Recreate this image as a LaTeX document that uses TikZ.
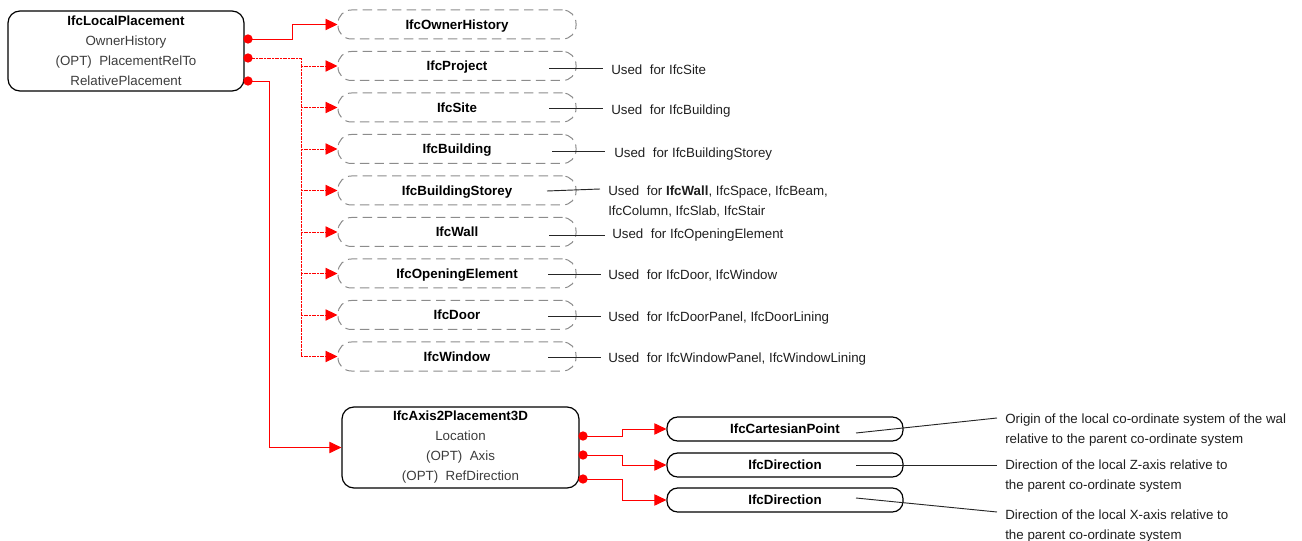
\documentclass[tikz,border=0pt]{standalone}
\usepackage{fontspec}
\setmainfont{Liberation Sans}
\usetikzlibrary{arrows.meta}
\definecolor{bodytxt}{HTML}{3C3C3C}
\definecolor{dashgray}{HTML}{8C8C8C}
\begin{document}
\begin{tikzpicture}[x=0.75pt,y=-0.75pt,
  font=\fontsize{10}{15}\selectfont,
  entbox/.style={draw=black,line width=0.9pt,rounded corners=9pt,align=center,inner sep=0pt},
  dashbox/.style={draw=dashgray,line width=0.75pt,dash pattern=on 7pt off 4pt,rounded corners=10pt,minimum width=178.5pt,minimum height=21.75pt,inner sep=0pt,text depth=0pt,font=\fontsize{10}{12}\selectfont\bfseries},
  smallbox/.style={draw=black,line width=0.9pt,rounded corners=8pt,minimum width=177pt,minimum height=18pt,inner sep=0pt,text depth=0pt,font=\fontsize{10}{12}\selectfont\bfseries},
  conn/.style={draw=red,line width=0.6pt},
  dotconn/.style={conn,line width=0.7pt,dash pattern=on 1.5pt off 0.5pt},
  tip/.style={-{Triangle[length=9pt,width=8.5pt]}},
  port/.style={circle,fill=red,inner sep=0pt,minimum size=7pt},
  note/.style={anchor=west,align=left,inner sep=0pt,text=black!88},
  noteline/.style={draw=black!85,line width=0.7pt},
]
\useasboundingbox (0,0) rectangle (1302,541);

% main entity
\node[entbox,minimum width=177pt,minimum height=60pt] (lp) at (126,51)
  {\textbf{IfcLocalPlacement}\\\textcolor{bodytxt}{OwnerHistory}\\\textcolor{bodytxt}{(OPT)~ PlacementRelTo}\\\textcolor{bodytxt}{RelativePlacement}};
\node[port] (lpa) at (248,39) {};
\node[port] (lpb) at (248,58) {};
\node[port] (lpc) at (248,81) {};

% dashed boxes
\node[dashbox] (oh) at (457,24.5) {IfcOwnerHistory};
\node[dashbox] (pj) at (457,66) {IfcProject};
\node[dashbox] (st) at (457,107.5) {IfcSite};
\node[dashbox] (bd) at (457,149) {IfcBuilding};
\node[dashbox] (bs) at (457,190.5) {IfcBuildingStorey};
\node[dashbox] (wl) at (457,232) {IfcWall};
\node[dashbox] (op) at (457,273.5) {IfcOpeningElement};
\node[dashbox] (dr) at (457,315) {IfcDoor};
\node[dashbox] (wn) at (457,356.5) {IfcWindow};

% connectors from IfcLocalPlacement
\draw[conn,tip] (lpa.center) -- ++(44,0) |- (oh.west);
\coordinate (bus) at (301,356.5);
\draw[dotconn] (lpb.center) -| (bus);
\foreach \b in {pj,st,bd,bs,wl,op,dr,wn}
  \draw[dotconn,tip] (bus |- \b.west) -- (\b.west);

% axis placement
\node[entbox,minimum width=177.75pt,minimum height=60.75pt] (ax) at (460.5,447.5)
  {\textbf{IfcAxis2Placement3D}\\\textcolor{bodytxt}{Location}\\\textcolor{bodytxt}{(OPT)~ Axis}\\\textcolor{bodytxt}{(OPT)~ RefDirection}};
\draw[conn,tip] (lpc.center) -- ++(21,0) |- (ax.west);
\node[port] (axa) at (583,436) {};
\node[port] (axb) at (583,455) {};
\node[port] (axc) at (583,479) {};

\node[smallbox] (cp) at (785,429) {IfcCartesianPoint};
\node[smallbox] (d1) at (785,465) {IfcDirection};
\node[smallbox] (d2) at (785,500) {IfcDirection};
\draw[conn,tip] (axa.center) -- ++(39,0) |- (cp.west);
\draw[conn,tip] (axb.center) -- ++(39,0) |- (d1.west);
\draw[conn,tip] (axc.center) -- ++(39,0) |- (d2.west);

% notes upper
\node[note] (npj) at (611,70) {Used~ for IfcSite};
\node[note] (nst) at (611,111) {Used~ for IfcBuilding};
\node[note] (nbd) at (614,154) {Used~ for IfcBuildingStorey};
\node[note,font=\fontsize{10}{15}\selectfont] (nbs) at (608,202) {Used~ for \textbf{IfcWall}, IfcSpace, IfcBeam,\\IfcColumn, IfcSlab, IfcStair};
\node[note] (nwl) at (612,235) {Used~ for IfcOpeningElement};
\node[note] (nop) at (608,276) {Used~ for IfcDoor, IfcWindow};
\node[note] (ndr) at (608,318) {Used~ for IfcDoorPanel, IfcDoorLining};
\node[note] (nwn) at (608,359) {Used~ for IfcWindowPanel, IfcWindowLining};

\coordinate (apj) at (549,68);   \coordinate (bpj) at (603,68);
\coordinate (ast) at (549,108.5);\coordinate (bst) at (603,108.5);
\coordinate (abd) at (552,151);  \coordinate (bbd) at (605,151);
\coordinate (abs) at (547,191);  \coordinate (bbs) at (600,189);
\coordinate (awl) at (549,235);  \coordinate (bwl) at (605,235);
\coordinate (aop) at (548,274.5);\coordinate (bop) at (601,274.5);
\coordinate (adr) at (548,316);  \coordinate (bdr) at (601,316);
\coordinate (awn) at (548,357.5);\coordinate (bwn) at (601,357.5);
\foreach \k in {pj,st,bd,bs,wl,op,dr,wn}
  \draw[noteline] (a\k) -- (b\k);

% notes lower
\node[note] (ncp) at (1005,430) {Origin of the local co-ordinate system of the wal\\relative to the parent co-ordinate system};
\node[note] (nd1) at (1005,476.5) {Direction of the local Z-axis relative to\\the parent co-ordinate system};
\node[note] (nd2) at (1005,526) {Direction of the local X-axis relative to\\the parent co-ordinate system};
\coordinate (acp) at (856,433);  \coordinate (bcp) at (997,418);
\coordinate (ad1) at (856,465);  \coordinate (bd1) at (997,465);
\coordinate (ad2) at (856,498);  \coordinate (bd2) at (997,512);
\draw[noteline] (acp) -- (bcp);
\draw[noteline] (ad1) -- (bd1);
\draw[noteline] (ad2) -- (bd2);
\end{tikzpicture}
\end{document}
